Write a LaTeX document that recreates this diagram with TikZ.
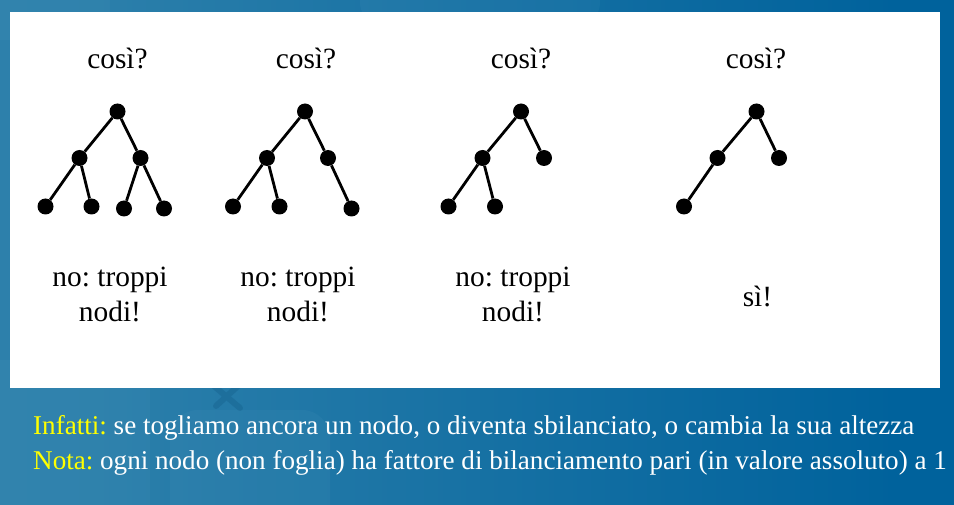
\documentclass[tikz,border=0pt]{standalone}
\usepackage{fontspec}
\setmainfont{Liberation Serif}
\frenchspacing
\definecolor{bgL}{HTML}{3686AE}
\definecolor{bgR}{HTML}{00629C}
\definecolor{keyhi}{HTML}{5AA0C4}
\definecolor{keylo}{HTML}{0B4F7C}
\definecolor{hl}{HTML}{FFFF00}
\pgfdeclarehorizontalshading{slidebg}{100bp}{color(0bp)=(bgL); color(30bp)=(bgL!80!bgR); color(72bp)=(bgR); color(100bp)=(bgR)}

\begin{document}
\begin{tikzpicture}[x=1pt,y=-1pt,
  vtx/.style={circle,fill=black,inner sep=0pt,minimum size=16pt},
  edge/.style={line width=2.8pt},
  lbl/.style={font=\fontsize{29.4}{35}\selectfont,text=black,anchor=base,inner sep=0pt},
  note/.style={font=\fontsize{27.1}{32}\selectfont,text=white,anchor=base west,inner sep=0pt},
  key/.style={fill=keyhi,fill opacity=0.10,rounded corners=28pt}]

\useasboundingbox (0,0) rectangle (954,505);

% slide background with faint keyboard keys
\shade[shading=slidebg] (0,0) rectangle (954,505);
\fill[key] (-40,360) rectangle (150,530);
\fill[key] (170,410) rectangle (330,530);
\fill[key] (360,-40) rectangle (600,30);
\fill[key] (-40,-40) rectangle (110,40);
\draw[keylo,opacity=0.25,line width=6pt,line cap=round] (214,386) -- (240,408) (238,386) -- (216,406);

% white panel
\fill[white] (10,12) rectangle (940,388);

% tree 1
\node[vtx] (a0) at (117.5,111.5) {};
\node[vtx] (a1) at (79.5,158) {};
\node[vtx] (a2) at (140.5,158) {};
\node[vtx] (a3) at (45.5,206.5) {};
\node[vtx] (a4) at (91.5,206.5) {};
\node[vtx] (a5) at (124,208.5) {};
\node[vtx] (a6) at (164,208.5) {};
\draw[edge] (a0) -- (a1) (a0) -- (a2) (a1) -- (a3) (a1) -- (a4) (a2) -- (a5) (a2) -- (a6);

% tree 2
\node[vtx] (b0) at (305,111.5) {};
\node[vtx] (b1) at (267,158) {};
\node[vtx] (b2) at (328,158) {};
\node[vtx] (b3) at (233,206.5) {};
\node[vtx] (b4) at (279.5,206.5) {};
\node[vtx] (b6) at (351.5,208.5) {};
\draw[edge] (b0) -- (b1) (b0) -- (b2) (b1) -- (b3) (b1) -- (b4) (b2) -- (b6);

% tree 3
\node[vtx] (c0) at (521,111.5) {};
\node[vtx] (c1) at (482.5,158) {};
\node[vtx] (c2) at (544,158) {};
\node[vtx] (c3) at (448.5,206.5) {};
\node[vtx] (c4) at (495,206.5) {};
\draw[edge] (c0) -- (c1) (c0) -- (c2) (c1) -- (c3) (c1) -- (c4);

% tree 4
\node[vtx] (d0) at (756.5,111.5) {};
\node[vtx] (d1) at (717.5,158) {};
\node[vtx] (d2) at (779,158) {};
\node[vtx] (d3) at (684,206.5) {};
\draw[edge] (d0) -- (d1) (d0) -- (d2) (d1) -- (d3);

% captions
\node[lbl] (q1) at (117.5,68.5) {così?};
\node[lbl] (q2) at (306,68.5) {così?};
\node[lbl] (q3) at (521,68.5) {così?};
\node[lbl] (q4) at (756,68.5) {così?};

\node[lbl] (r1a) at (110,287) {no: troppi};
\node[lbl] (r1b) at (110,321.5) {nodi!};
\node[lbl] (r2a) at (298,287) {no: troppi};
\node[lbl] (r2b) at (298,321.5) {nodi!};
\node[lbl] (r3a) at (513,287) {no: troppi};
\node[lbl] (r3b) at (513,321.5) {nodi!};
\node[lbl] (r4) at (757.5,307) {sì!};

% notes under the panel
\node[note] (n1) at (33,434) {\textcolor{hl}{Infatti:} se togliamo ancora un nodo, o diventa sbilanciato, o cambia la sua altezza};
\node[note] (n2) at (33,469) {\textcolor{hl}{Nota:} ogni nodo (non foglia) ha fattore di bilanciamento pari (in valore assoluto) a 1};
\end{tikzpicture}
\end{document}
